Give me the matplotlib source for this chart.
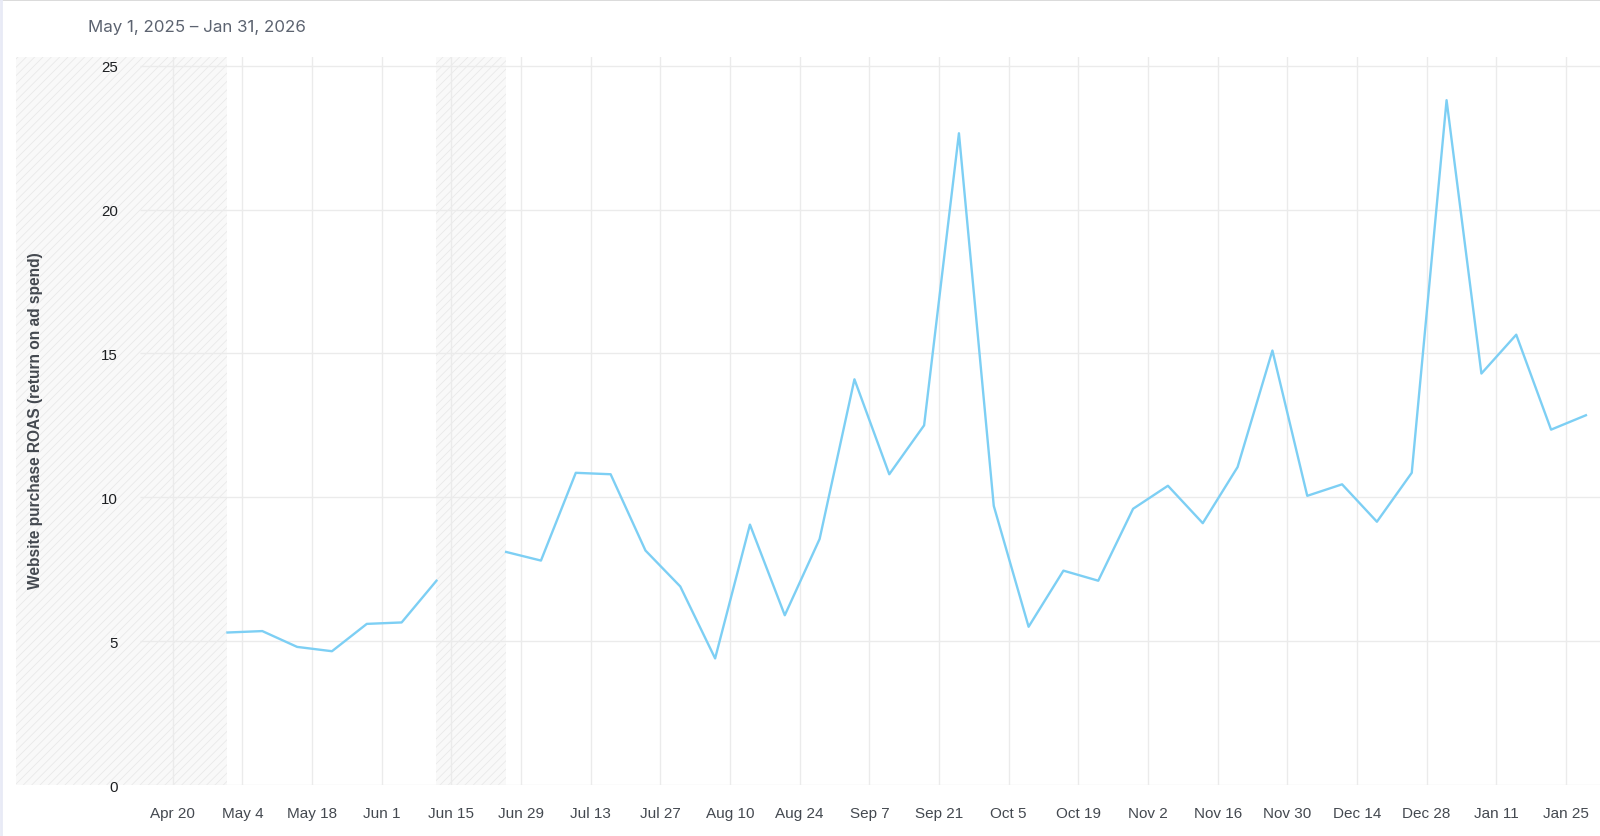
import numpy as np
import pandas as pd
import matplotlib
matplotlib.use("Agg")
import matplotlib.pyplot as plt
import matplotlib.dates as mdates
from matplotlib.lines import Line2D

# weekly points (Thursday weeks), Jun 19 has no data
week_dates = [
    "2025-05-01", "2025-05-08", "2025-05-15", "2025-05-22", "2025-05-29",
    "2025-06-05", "2025-06-12", "2025-06-19", "2025-06-26", "2025-07-03",
    "2025-07-10", "2025-07-17", "2025-07-24", "2025-07-31", "2025-08-07",
    "2025-08-14", "2025-08-21", "2025-08-28", "2025-09-04", "2025-09-11",
    "2025-09-18", "2025-09-25", "2025-10-02", "2025-10-09", "2025-10-16",
    "2025-10-23", "2025-10-30", "2025-11-06", "2025-11-13", "2025-11-20",
    "2025-11-27", "2025-12-04", "2025-12-11", "2025-12-18", "2025-12-25",
    "2026-01-01", "2026-01-08", "2026-01-15", "2026-01-22", "2026-01-29",
]
roas = [
    5.3, 5.35, 4.8, 4.65, 5.6,
    5.65, 7.1, np.nan, 8.1, 7.8,
    10.85, 10.8, 8.15, 6.9, 4.4,
    9.05, 5.9, 8.55, 14.1, 10.8,
    12.5, 22.65, 9.7, 5.5, 7.45,
    7.1, 9.6, 10.4, 9.1, 11.05,
    15.1, 10.05, 10.45, 9.15, 10.85,
    23.8, 14.3, 15.65, 12.35, 12.85,
]

# periods without data (hatched)
no_data_spans = [("2025-03-19 12:00", "2025-05-01"), ("2025-06-12", "2025-06-26")]

tick_dates = [
    "2025-04-20", "2025-05-04", "2025-05-18", "2025-06-01", "2025-06-15",
    "2025-06-29", "2025-07-13", "2025-07-27", "2025-08-10", "2025-08-24",
    "2025-09-07", "2025-09-21", "2025-10-05", "2025-10-19", "2025-11-02",
    "2025-11-16", "2025-11-30", "2025-12-14", "2025-12-28", "2026-01-11",
    "2026-01-25",
]
y_ticks = [0, 5, 10, 15, 20, 25]

title = "May 1, 2025 \u2013 Jan 31, 2026"
y_label = "Website purchase ROAS (return on ad spend)"

x = pd.to_datetime(week_dates)
ticks = pd.to_datetime(tick_dates)

plt.rcParams["font.family"] = ["Liberation Sans", "DejaVu Sans"]
plt.rcParams["hatch.linewidth"] = 0.6

fig = plt.figure(figsize=(16, 8.37), dpi=100)
ax = fig.add_axes([0.01, 0.0609, 0.99, 0.8698])

ax.set_xlim(pd.Timestamp("2025-03-19 12:00"), pd.Timestamp("2026-01-31 20:00"))
ax.set_ylim(0, 25.3)

for a, b in no_data_spans:
    ax.axvspan(pd.Timestamp(a), pd.Timestamp(b), facecolor="#f9f9f9",
               edgecolor="#e9e9e9", hatch="////", linewidth=0, zorder=0)

# vertical grid at ticks
for t in ticks:
    ax.axvline(t, color="#ebebeb", linewidth=1.0, zorder=1)

# horizontal grid starts right of the tick labels
gx0 = (140 - 16) / 1584
ax.hlines(y_ticks, gx0, 1, transform=ax.get_yaxis_transform(),
          color="#ebebeb", linewidth=1.0, zorder=1)

ax.plot(x, roas, color="#7dcff4", linewidth=1.7, zorder=3)

for s in ax.spines.values():
    s.set_visible(False)

ax.set_xticks(ticks)
ax.xaxis.set_major_formatter(mdates.DateFormatter("%b %-d"))
ax.tick_params(axis="x", length=0, pad=15, labelsize=11, labelcolor="#444950")
ax.set_yticks(y_ticks)
ax.tick_params(axis="y", length=0, pad=-73.5, labelsize=10.8, labelcolor="#1c1e21")
for lab in ax.get_yticklabels():
    lab.set_zorder(5)

fig.text(0.0225, 0.4976, y_label, rotation=90, ha="center", va="center",
         fontsize=11.2, fontweight="bold", color="#444950")

fig.text(87.7 / 1600, 1 - 27.5 / 837, title, ha="left", va="center",
         fontsize=12.2, color="#5c6370", family=["Inter", "DejaVu Sans"])

# card borders
fig.add_artist(Line2D([0, 1], [0.999, 0.999], color="#d4d4d4", linewidth=1.2,
                      transform=fig.transFigure))
fig.add_artist(Line2D([0.0008, 0.0008], [0, 1], color="#e8eaf6", linewidth=2,
                      transform=fig.transFigure))

fig.savefig("out.png", dpi=100, facecolor="white")
